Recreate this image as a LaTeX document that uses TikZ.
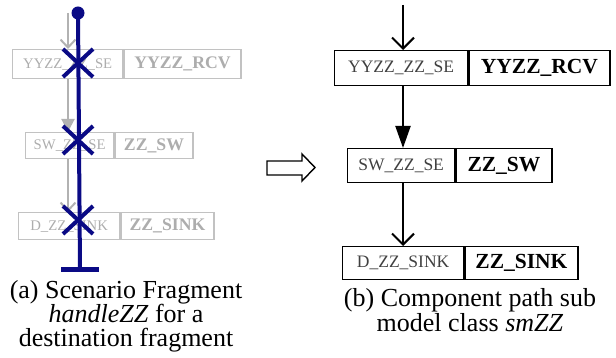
\documentclass[tikz,border=0pt]{standalone}
\usepackage{fontspec}
\setmainfont{LiberationSerif}[Extension=.ttf, UprightFont=*-Regular, BoldFont=*-Bold, ItalicFont=*-Italic, BoldItalicFont=*-BoldItalic]
\usetikzlibrary{arrows.meta}

\definecolor{navy}{rgb}{0.04,0.04,0.52}
\definecolor{fadeline}{gray}{0.76}
\definecolor{fadetext}{gray}{0.68}
\definecolor{fadearrow}{gray}{0.70}
\definecolor{darktext}{gray}{0.25}

\tikzset{
  cell/.style={draw, rectangle, inner sep=0pt, anchor=north west, line width=1.3pt},
  fadecell/.style={cell, draw=fadeline, text=fadetext},
  smallrm/.style={font=\fontsize{14.7}{16}\selectfont},
  smallbf/.style={font=\fontsize{17.7}{19}\selectfont\bfseries},
  bigrm/.style={font=\fontsize{17.5}{19}\selectfont, text=darktext},
  bigbf/.style={font=\fontsize{21.5}{23}\selectfont\bfseries},
  flow/.style={line width=2pt},
  vhead/.style={-{Straight Barb[length=11pt,width=22pt]}},
  thead/.style={-{Triangle[length=22pt,width=15pt]}},
  fadeflow/.style={fadearrow, line width=2pt},
  fadev/.style={-{Straight Barb[length=8pt,width=15pt]}},
  fadet/.style={-{Triangle[length=13pt,width=13pt]}},
  cut/.style={navy, line width=4pt},
  caption/.style={align=center, font=\fontsize{26}{23.5}\selectfont},
}

\begin{document}
\begin{tikzpicture}[x=1pt,y=-1pt]
\useasboundingbox (0,0) rectangle (616,358);

% ---------- (a) scenario fragment over the faded component path ----------
\node[fadecell, smallrm, minimum width=110pt, minimum height=29pt] (l1a) at (12,49) {YYZZ\_ZZ\_SE};
\node[fadecell, smallbf, minimum width=117pt, minimum height=29pt] (l1b) at (l1a.north east) {YYZZ\_RCV};
\node[fadecell, smallrm, minimum width=88pt, minimum height=26pt] (l2a) at (25,132) {SW\_ZZ\_SE};
\node[fadecell, smallbf, minimum width=78pt, minimum height=26pt] (l2b) at (l2a.north east) {ZZ\_SW};
\node[fadecell, smallrm, minimum width=101pt, minimum height=27pt] (l3a) at (18,212) {D\_ZZ\_SINK};
\node[fadecell, smallbf, minimum width=93pt, minimum height=27pt] (l3b) at (l3a.north east) {ZZ\_SINK};

\coordinate (gtop) at (68,13);
\draw[fadeflow, fadev] (gtop) -- (gtop |- l1a.north);
\draw[fadeflow, fadet] (l1a.south -| gtop) -- (l2a.north -| gtop);
\draw[fadeflow, fadev] (l2a.south -| gtop) -- (l3a.north -| gtop);

% the scenario path with its start point, cuts and end bar
\coordinate (start) at (78,13);
\coordinate (stop) at (80,270);
\draw[cut] (start) -- (stop);
\fill[navy] (start) circle (6.5pt);
\draw[navy, line width=5pt] ([xshift=-19pt]stop) -- ([xshift=19pt]stop);

\coordinate (x1) at (78,63);
\coordinate (x2) at (78,140);
\coordinate (x3) at (78,220);
\foreach \c in {x1,x2,x3}{
  \draw[cut] (\c) +(-15,-14) -- +(15,14);
  \draw[cut] (\c) +(-15,14) -- +(15,-14);
}

\node[caption] (capa) at (126,316) {(a) Scenario Fragment\\\textit{handleZZ} for a\\destination fragment};

% ---------- transformation arrow ----------
\draw[line width=1.4pt, line join=miter] (267,161) -- (302,161) -- (302,154) -- (315,167.5)
  -- (302,181) -- (302,175) -- (267,175) -- cycle;

% ---------- (b) component path sub model class ----------
\node[cell, bigrm, minimum width=133pt, minimum height=35pt] (r1a) at (334,50) {YYZZ\_ZZ\_SE};
\node[cell, bigbf, minimum width=141pt, minimum height=35pt] (r1b) at (r1a.north east) {YYZZ\_RCV};
\node[cell, bigrm, minimum width=107pt, minimum height=34pt] (r2a) at (347,148) {SW\_ZZ\_SE};
\node[cell, bigbf, minimum width=96pt, minimum height=34pt] (r2b) at (r2a.north east) {ZZ\_SW};
\node[cell, bigrm, minimum width=121pt, minimum height=33pt] (r3a) at (342,246) {D\_ZZ\_SINK};
\node[cell, bigbf, minimum width=113pt, minimum height=33pt] (r3b) at (r3a.north east) {ZZ\_SINK};

\coordinate (rtop) at (403,5);
\draw[flow, vhead] (rtop) -- (rtop |- r1a.north);
\draw[flow, thead] (r1a.south -| rtop) -- (r2a.north -| rtop);
\draw[flow, vhead] (r2a.south -| rtop) -- (r3a.north -| rtop);

\node[caption] (capb) at (470,310) {(b) Component path sub\\model class \textit{smZZ}};
\end{tikzpicture}
\end{document}
